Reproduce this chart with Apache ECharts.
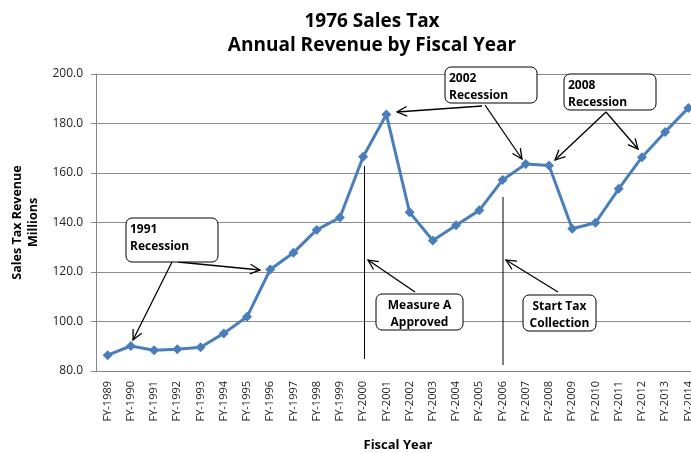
<!DOCTYPE html>
<html>
<head>
<meta charset="utf-8">
<script src="https://cdn.jsdelivr.net/npm/echarts@6/dist/echarts.min.js"></script>
<style>
  html, body { margin: 0; padding: 0; background: #fff; }
  #chart { width: 691px; height: 453px; }
</style>
</head>
<body>
<div id="chart"></div>
<script>
// fiscal years and revenue (millions)
const years = [
  "FY-1989", "FY-1990", "FY-1991", "FY-1992", "FY-1993", "FY-1994", "FY-1995",
  "FY-1996", "FY-1997", "FY-1998", "FY-1999", "FY-2000", "FY-2001", "FY-2002",
  "FY-2003", "FY-2004", "FY-2005", "FY-2006", "FY-2007", "FY-2008", "FY-2009",
  "FY-2010", "FY-2011", "FY-2012", "FY-2013", "FY-2014"
];
const revenue = [
  86.4, 90.1, 88.4, 88.8, 89.6, 95.2, 101.9,
  121.0, 127.8, 137.0, 142.0, 166.6, 183.6, 144.1,
  132.7, 138.9, 144.9, 157.2, 163.6, 163.0, 137.5,
  139.9, 153.6, 166.4, 176.6, 186.3
];
const yTicks = [80, 100, 120, 140, 160, 180, 200];

const font = "'Open Sans', 'Liberation Sans', sans-serif";
const chart = echarts.init(document.getElementById("chart"));

// callout arrow: shaft plus open V head at (x2, y2)
function arrow(x1, y1, x2, y2) {
  const a = Math.atan2(y2 - y1, x2 - x1);
  const len = 11, spread = 0.45;
  const p1 = [x2 - len * Math.cos(a - spread), y2 - len * Math.sin(a - spread)];
  const p2 = [x2 - len * Math.cos(a + spread), y2 - len * Math.sin(a + spread)];
  return [
    { type: "line", shape: { x1, y1, x2, y2 }, style: { stroke: "#000", lineWidth: 1.3 }, z: 50 },
    { type: "polyline", shape: { points: [p1, [x2, y2], p2] }, style: { stroke: "#000", lineWidth: 1.3, fill: null }, z: 50 }
  ];
}

function box(x, y, w, h, text, align) {
  return [
    { type: "rect", shape: { x, y, width: w, height: h, r: 6 },
      style: { fill: "#fff", stroke: "#000", lineWidth: 1 }, z: 60 },
    { type: "text", x: align === "center" ? x + w / 2 : x + 4, y: y + 3, z: 61,
      style: { text, font: "bold 12px " + font, fill: "#000", lineHeight: 17,
               align: align === "center" ? "center" : "left", verticalAlign: "top" } }
  ];
}

function vline(x, y1, y2) {
  return { type: "line", shape: { x1: x, y1, x2: x, y2 }, style: { stroke: "#000", lineWidth: 1 }, z: 40 };
}

const graphics = [].concat(
  vline(364.5, 166, 359),
  vline(503, 197, 365),
  arrow(172, 262, 133, 340),
  arrow(178, 262, 260, 270),
  arrow(415, 292, 368, 260),
  arrow(558, 292, 506, 260),
  arrow(482, 106, 397, 112),
  arrow(485, 105, 522, 159),
  arrow(606, 112, 555, 160),
  arrow(606, 112, 638, 149),
  box(126, 218, 92, 44, "1991\nRecession", "left"),
  box(445, 67, 92, 36, "2002\nRecession", "left"),
  box(564, 74, 92, 36, "2008\nRecession", "left"),
  box(376, 294, 87, 36, "Measure A\nApproved", "center"),
  box(523, 295, 73, 36, "Start Tax\nCollection", "center")
);

chart.setOption({
  animation: false,
  title: {
    text: "1976 Sales Tax\nAnnual Revenue by Fiscal Year",
    left: 367, top: 5, textAlign: "center",
    textStyle: { fontFamily: font, fontWeight: "bold", fontSize: 19, lineHeight: 24, color: "#000" }
  },
  grid: { left: 96, top: 74, width: 604, height: 297, outerBoundsMode: "none", containLabel: false },
  xAxis: {
    type: "category",
    data: years,
    boundaryGap: true,
    name: "Fiscal Year",
    nameLocation: "middle",
    nameGap: 68,
    nameTextStyle: { fontFamily: font, fontWeight: "bold", fontSize: 13, color: "#000" },
    axisLine: { lineStyle: { color: "#868686" } },
    axisTick: { length: 5, lineStyle: { color: "#868686" } },
    axisLabel: { rotate: 90, interval: 0, fontFamily: font, fontSize: 11, color: "#222", margin: 10 }
  },
  yAxis: {
    type: "value",
    min: yTicks[0], max: yTicks[yTicks.length - 1], interval: 20,
    name: "Sales Tax Revenue\nMillions",
    nameLocation: "middle",
    nameGap: 54,
    nameRotate: 90,
    nameTextStyle: { fontFamily: font, fontWeight: "bold", fontSize: 12.5, color: "#000", lineHeight: 16 },
    axisLine: { show: true, lineStyle: { color: "#868686" } },
    axisTick: { show: true, length: 5, lineStyle: { color: "#868686" } },
    axisLabel: { formatter: v => v.toFixed(1), fontFamily: font, fontSize: 12, color: "#222", margin: 13 },
    splitLine: { lineStyle: { color: "#8c8c8c", width: 1 } }
  },
  series: [{
    type: "line",
    data: revenue,
    symbol: "diamond",
    symbolSize: 10,
    lineStyle: { color: "#4a7ebb", width: 3 },
    itemStyle: { color: "#4a7ebb" },
    z: 10
  }],
  graphic: graphics
});
</script>
</body>
</html>
